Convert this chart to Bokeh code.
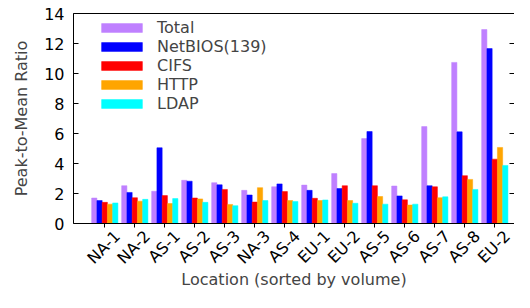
from bokeh.plotting import figure
from bokeh.models import (ColumnDataSource, LinearAxis, FixedTicker, Range1d,
                          Legend, LegendItem)
from bokeh.embed import file_html
from bokeh.resources import INLINE

# ---- data ----
locations = ["NA-1", "NA-2", "AS-1", "AS-2", "AS-3", "NA-3", "AS-4",
             "EU-1", "EU-2", "AS-5", "AS-6", "AS-7", "AS-8", "EU-2"]
series_names = ["Total", "NetBIOS(139)", "CIFS", "HTTP", "LDAP"]
total   = [1.70, 2.52, 2.15, 2.88, 2.72, 2.21, 2.45, 2.56, 3.33, 5.66, 2.50, 6.46, 10.74, 12.93]
netbios = [1.53, 2.07, 5.05, 2.82, 2.58, 1.90, 2.64, 2.21, 2.33, 6.13, 1.84, 2.52, 6.11, 11.66]
cifs    = [1.41, 1.72, 1.86, 1.70, 2.27, 1.43, 2.13, 1.68, 2.52, 2.52, 1.58, 2.45, 3.19, 4.29]
http    = [1.29, 1.49, 1.33, 1.64, 1.27, 2.39, 1.53, 1.53, 1.53, 1.80, 1.23, 1.72, 2.94, 5.07]
ldap    = [1.37, 1.61, 1.66, 1.41, 1.19, 1.53, 1.47, 1.57, 1.35, 1.29, 1.29, 1.78, 2.27, 3.87]
y_ticks = [0, 2, 4, 6, 8, 10, 12, 14]

colors = ["#bf80ff", "#0000ff", "#ff0000", "#ffa500", "#00ffff"]
FONT = "DejaVu Sans"
FS = "16px"
BAR_W = 0.175
LABEL_SHIFT = 0.42

idx = list(range(len(locations)))
p = figure(width=514, height=292, output_backend="svg",
           toolbar_location=None,
           x_range=Range1d(-1.043, 13.657), y_range=Range1d(0, 14),
           min_border_left=73, min_border_top=13, min_border_right=0,
           min_border_bottom=56)
p.outline_line_color = None
p.xgrid.visible = False
p.ygrid.visible = False
p.background_fill_color = "white"
p.border_fill_color = "white"

items = []
for k, (name, vals) in enumerate(zip(series_names, [total, netbios, cifs, http, ldap])):
    off = (k - 2) * BAR_W
    src = ColumnDataSource(dict(x=[i + off for i in idx], top=vals))
    r = p.vbar(x="x", top="top", width=BAR_W, bottom=0, source=src,
               fill_color=colors[k], line_color=colors[k], line_width=0.5)
    items.append(LegendItem(label=name, renderers=[r]))

legend = Legend(items=items, location=(23, 110), border_line_color=None,
                background_fill_alpha=0, padding=0, margin=0, spacing=0,
                glyph_width=51, glyph_height=11, label_height=18,
                label_standoff=10, label_text_font=FONT,
                label_text_font_size=FS)
p.add_layout(legend)

# bottom axis: ticks only
xa = p.xaxis[0]
xa.ticker = FixedTicker(ticks=idx)
xa.major_tick_in = 0
xa.major_tick_out = 4
xa.minor_tick_in = 0
xa.minor_tick_out = 0
xa.major_label_text_font_size = "0px"
xa.major_label_text_color = None
xa.major_label_standoff = 0
xa.axis_line_color = "black"
xa.major_tick_line_color = "black"

# bottom axis: labels
label_ticks = [i + LABEL_SHIFT for i in idx]
xl = LinearAxis(ticker=FixedTicker(ticks=label_ticks),
                major_label_overrides={t: lab for t, lab in zip(label_ticks, locations)},
                major_label_orientation=0.785398,
                major_tick_in=0, major_tick_out=0, minor_tick_in=0, minor_tick_out=0,
                axis_line_color=None, major_label_standoff=6,
                major_label_text_font=FONT, major_label_text_font_size=FS,
                major_label_text_color="black",
                axis_label="Location (sorted by volume)",
                axis_label_text_font=FONT, axis_label_text_font_size=FS,
                axis_label_text_font_style="normal", axis_label_standoff=-7)
p.add_layout(xl, "below")

# left axis
ya = p.yaxis[0]
ya.ticker = FixedTicker(ticks=y_ticks)
ya.major_tick_in = 5
ya.major_tick_out = 0
ya.minor_tick_in = 0
ya.minor_tick_out = 0
ya.major_label_standoff = 9
ya.major_label_text_font = FONT
ya.major_label_text_font_size = FS
ya.major_label_text_color = "black"
ya.axis_label = "Peak-to-Mean Ratio"
ya.axis_label_text_font = FONT
ya.axis_label_text_font_size = FS
ya.axis_label_text_font_style = "normal"
ya.axis_label_standoff = 10
ya.axis_line_color = "black"

# right axis: inward ticks only
ra = LinearAxis(ticker=FixedTicker(ticks=y_ticks), major_tick_in=5, major_tick_out=0,
                minor_tick_in=0, minor_tick_out=0, axis_line_color=None,
                major_label_text_font_size="0px", major_label_text_color=None,
                major_label_standoff=0)
p.add_layout(ra, "right")

# top border
ta = LinearAxis(ticker=FixedTicker(ticks=[]), major_tick_in=0, major_tick_out=0,
                minor_tick_in=0, minor_tick_out=0, axis_line_color="black",
                major_label_text_font_size="0px", major_label_text_color=None,
                major_label_standoff=0)
p.add_layout(ta, "above")

open("out.html", "w").write(file_html(p, INLINE))
